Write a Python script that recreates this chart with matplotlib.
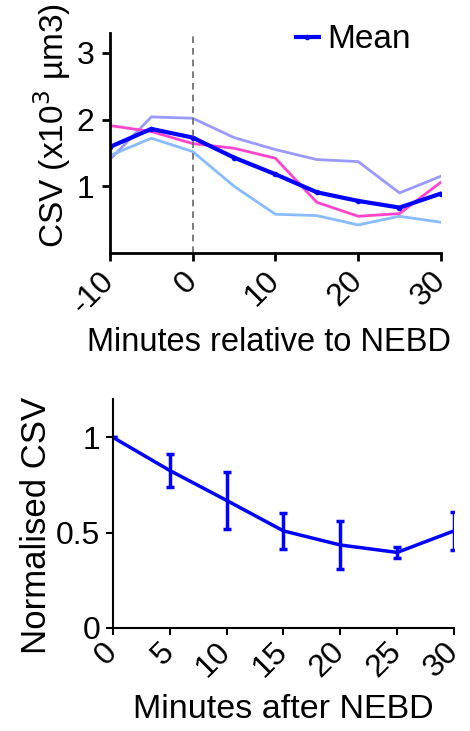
import matplotlib
matplotlib.use("Agg")
import matplotlib.pyplot as plt

plt.rcParams['font.family'] = ['Liberation Sans', 'DejaVu Sans']

# ---- data: top panel ----
time_rel = [-10, -5, 0, 5, 10, 15, 20, 25, 30]
mean_csv = [1.59, 1.86, 1.73, 1.43, 1.18, 0.91, 0.78, 0.68, 0.89]
cell_purple = [1.40, 2.04, 2.02, 1.73, 1.55, 1.40, 1.37, 0.90, 1.15]
cell_pink = [1.91, 1.82, 1.64, 1.57, 1.42, 0.76, 0.55, 0.59, 1.06]
cell_lightblue = [1.46, 1.72, 1.52, 1.00, 0.58, 0.56, 0.42, 0.55, 0.46]
top_xticks = [-10, 0, 10, 20, 30]
top_yticks = [1, 2, 3]

# ---- data: bottom panel ----
time_after = [0, 5, 10, 15, 20, 25, 30]
norm_mean = [1.0, 0.826, 0.669, 0.509, 0.435, 0.396, 0.509]
norm_err = [0.0, 0.087, 0.149, 0.096, 0.126, 0.027, 0.10]
bot_yticks = [0, 0.5, 1]
bot_yticklabels = ['0', '0.5', '1']

fig = plt.figure(figsize=(4.7, 7.31), dpi=100)

# ---------------- top panel ----------------
ax1 = fig.add_axes([0.234, 0.654, 0.704, 0.301])
ax1.plot(time_rel, cell_purple, color='#9999ff', lw=2)
ax1.plot(time_rel, cell_pink, color='#ff44cc', lw=2)
ax1.plot(time_rel, cell_lightblue, color='#88bbff', lw=2)
ax1.plot(time_rel, mean_csv, color='#0000ff', lw=3, marker='o', ms=3,
         label='Mean')
ax1.axvline(0, color='#666666', lw=1.2, ls=(0, (4, 3)))
ax1.set_xlim(-10, 30)
ax1.set_ylim(0, 3.3)
ax1.set_xticks(top_xticks)
ax1.set_yticks(top_yticks)
ax1.set_xticklabels([str(t) for t in top_xticks], rotation=45, ha='right',
                    va='center', rotation_mode='anchor')
for s in ['top', 'right']:
    ax1.spines[s].set_visible(False)
for s in ['left', 'bottom']:
    ax1.spines[s].set_linewidth(2)
ax1.tick_params(axis='both', labelsize=23, width=2, length=6)
ax1.tick_params(axis='x', pad=11)
ax1.tick_params(axis='y', pad=5)
ax1.set_xlabel('Minutes relative to NEBD', fontsize=23.5)
ax1.xaxis.label.set_va('center')
ax1.xaxis.set_label_coords(0.48, -0.405)
ax1.set_ylabel('CSV (x10$^3$ µm3)', fontsize=24)
ax1.yaxis.label.set_va('center')
ax1.yaxis.set_label_coords(-0.175, 0.577)
leg = ax1.legend(loc='upper right', bbox_to_anchor=(0.95, 1.10), frameon=False,
                 fontsize=24, handlelength=0.7, handletextpad=0.25,
                 borderaxespad=0)

# ---------------- bottom panel ----------------
ax2 = fig.add_axes([0.240, 0.141, 0.726, 0.313])
ax2.errorbar(time_after, norm_mean, yerr=norm_err, color='#0000ff', lw=2.5,
             elinewidth=2.5, capsize=2.7, capthick=2.5)
ax2.set_xlim(0, 30)
ax2.set_ylim(0, 1.2)
ax2.set_xticks(time_after)
ax2.set_xticklabels([str(t) for t in time_after], rotation=45, ha='right',
                    va='center', rotation_mode='anchor')
ax2.set_yticks(bot_yticks)
ax2.set_yticklabels(bot_yticklabels)
for s in ['top', 'right']:
    ax2.spines[s].set_visible(False)
for s in ['left', 'bottom']:
    ax2.spines[s].set_linewidth(1.5)
ax2.tick_params(axis='both', labelsize=23, width=1.5, length=5)
ax2.tick_params(axis='x', pad=9)
ax2.tick_params(axis='y', pad=4)
ax2.set_xlabel('Minutes after NEBD', fontsize=24.5)
ax2.xaxis.label.set_va('center')
ax2.xaxis.set_label_coords(0.50, -0.355)
ax2.set_ylabel('Normalised CSV', fontsize=25)
ax2.yaxis.label.set_va('center')
ax2.yaxis.set_label_coords(-0.225, 0.45)

fig.savefig('out.png', dpi=100)
